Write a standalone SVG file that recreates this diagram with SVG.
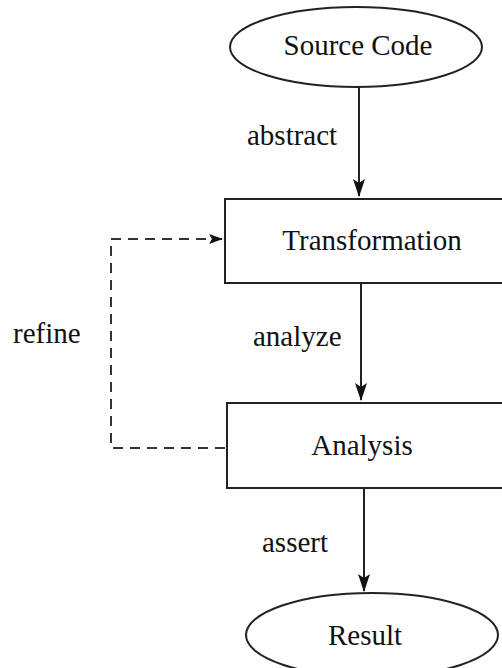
<svg xmlns="http://www.w3.org/2000/svg" width="502" height="668" viewBox="0 0 502 668">
  <style>
    .shape { fill: #fff; stroke: #222; stroke-width: 2; }
    .label { font-family: "Liberation Serif", "Times New Roman", serif; font-size: 29px; fill: #111; }
    .flow { fill: none; stroke: #222; stroke-width: 2; }
    .dashed { fill: none; stroke: #333; stroke-width: 2; stroke-dasharray: 10 7; }
  </style>
  <defs>
    <!-- solid arrowhead, drawn pointing along +x and rotated with the line -->
    <marker id="arrow" viewBox="0 0 18 12" refX="17" refY="6" markerWidth="18" markerHeight="12" markerUnits="userSpaceOnUse" orient="auto">
      <path d="M0 0 L18 6 L0 12 L4 6 Z" fill="#111"/>
    </marker>
    <marker id="arrowSmall" viewBox="0 0 14 10" refX="13" refY="5" markerWidth="14" markerHeight="10" markerUnits="userSpaceOnUse" orient="auto">
      <path d="M0 0 L14 5 L0 10 L3 5 Z" fill="#111"/>
    </marker>
  </defs>
  <rect width="502" height="668" fill="#fff"/>

  <g id="connectors">
    <line class="flow" x1="359" y1="87" x2="359" y2="196" marker-end="url(#arrow)"/>
    <line class="flow" x1="361" y1="283" x2="361" y2="400" marker-end="url(#arrow)"/>
    <line class="flow" x1="364" y1="488" x2="364" y2="591" marker-end="url(#arrow)"/>
    <path class="dashed" d="M225 448 H111 V239 H222" marker-end="url(#arrowSmall)"/>
    <text class="label" x="247" y="145">abstract</text>
    <text class="label" x="253" y="346">analyze</text>
    <text class="label" x="262" y="552">assert</text>
    <text class="label" x="13" y="343">refine</text>
  </g>

  <g id="source-code">
    <ellipse class="shape" cx="356" cy="47" rx="126" ry="40"/>
    <text class="label" x="358" y="55" text-anchor="middle">Source Code</text>
  </g>

  <g id="transformation">
    <rect class="shape" x="225" y="199" width="290" height="84"/>
    <text class="label" x="372" y="250" text-anchor="middle">Transformation</text>
  </g>

  <g id="analysis">
    <rect class="shape" x="227" y="403" width="290" height="85"/>
    <text class="label" x="362" y="455" text-anchor="middle">Analysis</text>
  </g>

  <g id="result">
    <ellipse class="shape" cx="372" cy="635" rx="126" ry="42"/>
    <text class="label" x="365" y="645" text-anchor="middle">Result</text>
  </g>
</svg>
